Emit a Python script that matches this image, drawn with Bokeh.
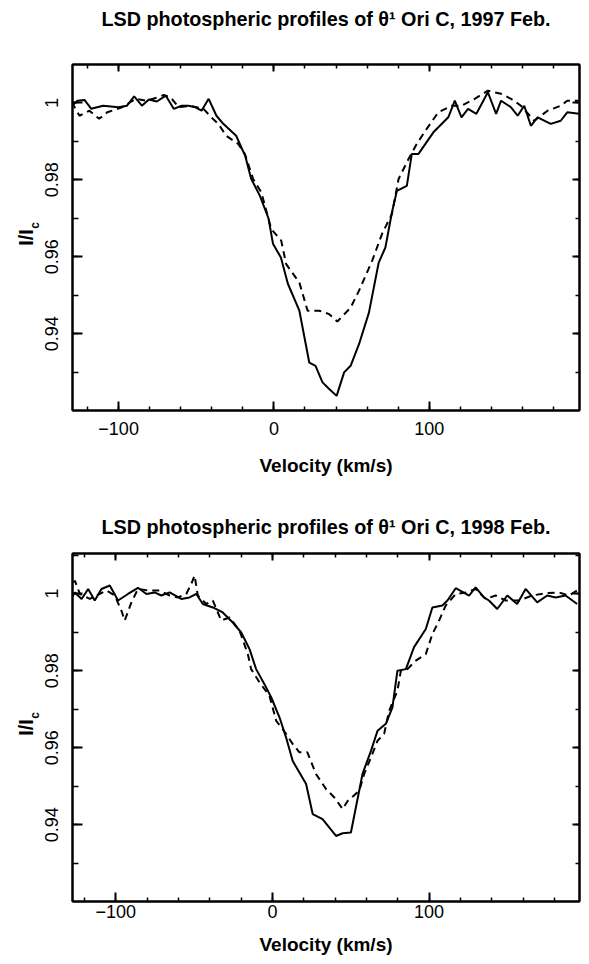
import numpy as np
from bokeh.plotting import figure
from bokeh.models import (LinearAxis, SingleIntervalTicker, FixedTicker, CustomJSTickFormatter,
                          CustomLabelingPolicy, Range1d)
from bokeh.layouts import column
from bokeh.embed import file_html
from bokeh.resources import INLINE

# ---------------- data ----------------
# 1997 Feb, solid profile
v97_solid = [-130, -126.5, -122, -117.6, -110, -100, -94.6, -90, -85, -80.5, -75.4, -69.6,
             -64.5, -59.4, -55, -50.5, -46.6, -42, -37, -32.6, -24.3, -18.5, -14.7, -9,
             -3.5, -0.6, 4.5, 9, 16.4, 22.8, 26.8, 31.3, 35.6, 40.4, 45.2, 49.4, 54.8,
             61.2, 67.5, 71.8, 76, 79.2, 85.6, 88.8, 93.1, 102.7, 112.3, 116.5, 120.8,
             125, 130.4, 137.8, 143.1, 146.3, 152.7, 157, 161.2, 165.5, 169.8, 178.3,
             184.7, 188.9, 196.4]
i97_solid = [0.9992, 1.0005, 1.0007, 0.9984, 0.9992, 0.9988, 0.9992, 1.0016, 0.9992, 1.0008,
             1.0003, 1.0018, 0.9984, 0.9992, 0.9992, 0.9988, 0.9979, 1.0010, 0.9966, 0.9945,
             0.9914, 0.9862, 0.9803, 0.9758, 0.9700, 0.9634, 0.9598, 0.9530, 0.9460, 0.9325,
             0.9317, 0.9274, 0.9257, 0.9239, 0.9300, 0.9317, 0.9373, 0.9455, 0.9585, 0.9624,
             0.9715, 0.9771, 0.9784, 0.9867, 0.9867, 0.9923, 0.9962, 1.0005, 0.9962, 0.9984,
             0.9971, 1.0027, 0.9971, 1.0005, 0.9988, 0.9966, 0.9992, 0.9940, 0.9962, 0.9945,
             0.9953, 0.9975, 0.9971]

# 1997 Feb, dashed profile
v97_dash = [-130.2, -125.2, -118.8, -112.5, -107.3, -97.8, -89, -81.8, -76.2, -70.9, -66.6,
            -61.3, -53.9, -45.4, -40.3, -35.8, -30.7, -23, -18.7, -13.4, -8.1, -1.7, 4.7,
            7.9, 16.4, 21.7, 29.2, 35.6, 40.9, 49.4, 54.8, 63.3, 69.6, 76, 80.3, 86.7, 92,
            98.4, 105.9, 114.4, 120.8, 129.3, 137.8, 146.3, 152.7, 159.1, 167.6, 176.2,
            184.7, 188.9, 196.4]
i97_dash = [1.0001, 0.9966, 0.9979, 0.9958, 0.9975, 0.9988, 1.0010, 1.0005, 1.0012, 1.0020,
            1.0014, 0.9988, 0.9992, 0.9984, 0.9962, 0.9945, 0.9914, 0.9893, 0.9867, 0.9802,
            0.9767, 0.9672, 0.9642, 0.9581, 0.9533, 0.9460, 0.9460, 0.9451, 0.9432, 0.9468,
            0.9512, 0.9590, 0.9659, 0.9711, 0.9802, 0.9854, 0.9893, 0.9932, 0.9975, 0.9992,
            0.9992, 1.0010, 1.0031, 1.0023, 1.0010, 0.9992, 0.9953, 0.9979, 0.9992, 1.0005,
            1.0005]

# 1998 Feb, solid profile
v98_solid = [-129.3, -126.1, -121.8, -117.6, -113.4, -109.1, -103.8, -98.5, -92.2, -85.8,
             -80.4, -75.2, -70.9, -65.6, -58.2, -52.9, -48.6, -44.4, -38, -31.7, -25.3,
             -19.9, -14.6, -10.4, -5.1, -0.8, 4.5, 8.7, 12.9, 21.5, 25.7, 32, 40.6, 44.8,
             50.1, 57.5, 62.9, 67.1, 72.4, 76.6, 79.8, 85.2, 90.4, 97.9, 102.1, 108.5,
             111.7, 117, 125.5, 129.7, 135, 138.2, 143.5, 149.9, 156.2, 161.6, 169, 175.4,
             180.7, 187.1, 194.5]
i98_solid = [0.9982, 1.0003, 0.9986, 1.0012, 0.9982, 1.0012, 1.0021, 0.9982, 0.9999, 1.0015,
             0.9999, 1.0003, 0.9995, 1.0003, 0.9986, 0.9990, 0.9999, 0.9973, 0.9964, 0.9951,
             0.9925, 0.9899, 0.9856, 0.9804, 0.9765, 0.9731, 0.9679, 0.9627, 0.9566, 0.9506,
             0.9428, 0.9415, 0.9371, 0.9378, 0.9380, 0.9532, 0.9592, 0.9644, 0.9662, 0.9705,
             0.9800, 0.9804, 0.9861, 0.9908, 0.9964, 0.9969, 0.9982, 1.0014, 0.9995, 1.0016,
             0.9990, 0.9982, 0.9960, 0.9995, 0.9973, 1.0012, 0.9977, 0.9995, 0.9990, 0.9995,
             0.9973]

# 1998 Feb, dashed profile
v98_dash = [-129.3, -126.1, -122.9, -116.6, -112.3, -105.9, -100.6, -96.4, -94.3, -90,
            -85.8, -79.4, -72, -65.6, -60.3, -55, -51.8, -49.7, -47.6, -42.2, -38, -32.7,
            -27.4, -21, -15.7, -13.6, -8.3, -1.9, 2.4, 8.7, 12.9, 17.2, 22.3, 27.8, 34.2,
            39.5, 44.8, 48, 55.4, 58.6, 62.9, 67.1, 71.3, 74.5, 79.8, 82, 86.2, 91.5, 97.9,
            102.1, 106.4, 110.6, 117, 123.4, 129.7, 136.1, 142.5, 148.9, 157.3, 165.8,
            174.3, 182.8, 189.2, 194.5]
i98_dash = [0.9999, 1.0034, 0.9999, 0.9986, 0.9995, 1.0008, 0.9995, 0.9956, 0.9930, 0.9977,
            1.0012, 1.0008, 1.0008, 0.9995, 0.9990, 0.9999, 1.0025, 1.0047, 0.9995, 0.9973,
            0.9982, 0.9930, 0.9938, 0.9904, 0.9843, 0.9804, 0.9770, 0.9735, 0.9670, 0.9636,
            0.9610, 0.9588, 0.9588, 0.9532, 0.9493, 0.9471, 0.9441, 0.9462, 0.9488, 0.9532,
            0.9575, 0.9618, 0.9636, 0.9696, 0.9748, 0.9800, 0.9804, 0.9826, 0.9843, 0.9895,
            0.9930, 0.9969, 0.9999, 1.0003, 1.0012, 0.9986, 0.9995, 0.9982, 0.9982, 0.9995,
            1.0001, 1.0003, 0.9995, 1.0008]

TITLE_97 = "LSD photospheric profiles of θ¹ Ori C, 1997 Feb."
TITLE_98 = "LSD photospheric profiles of θ¹ Ori C, 1998 Feb."
X_LABEL = "Velocity (km/s)"
Y_LABEL = "I/I"
# subscript of the y label; the two leading em spaces lift it above the end of "I/I"
Y_LABEL_SUB = "\u2003\u2003c"
X_MAJOR = 100
Y_MAJOR = 0.02

FONT = "Liberation Sans"

X_FMT = 'return tick < 0 ? "\u2212" + Math.abs(Math.round(tick)) : String(Math.round(tick));'
Y_FMT = 'return String(parseFloat(tick.toFixed(2)));'


def style_axis(ax, major_in, minor_in):
    ax.major_tick_in = major_in
    ax.major_tick_out = 0
    ax.minor_tick_in = minor_in
    ax.minor_tick_out = 0
    ax.axis_line_width = 2
    ax.axis_line_color = "black"
    ax.major_tick_line_width = 2
    ax.minor_tick_line_width = 1.5
    ax.major_tick_line_color = "black"
    ax.minor_tick_line_color = "black"
    ax.major_label_text_font = FONT
    ax.major_label_text_font_size = "18px"
    ax.major_label_text_color = "black"


def mirror_axis(ticker):
    ax = LinearAxis(ticker=ticker)
    style_axis(ax, 7, 4)
    ax.major_label_text_font_size = "0px"
    ax.major_label_standoff = 0
    ax.major_label_policy = CustomLabelingPolicy(code="return [];")
    return ax


def label_axis(text, size, standoff):
    # an axis without ticks, used only to place a text beside the frame
    ax = LinearAxis(ticker=FixedTicker(ticks=[], minor_ticks=[]))
    ax.axis_line_color = None
    ax.major_tick_line_color = None
    ax.minor_tick_line_color = None
    ax.major_tick_in = 0
    ax.major_tick_out = 0
    ax.minor_tick_in = 0
    ax.minor_tick_out = 0
    ax.major_label_text_font_size = "0px"
    ax.major_label_standoff = 0
    ax.axis_label = text
    ax.axis_label_text_font = FONT
    ax.axis_label_text_font_size = size
    ax.axis_label_text_font_style = "bold"
    ax.axis_label_text_color = "black"
    ax.axis_label_standoff = standoff
    return ax


def panel(title, vs, is_, vd, id_, width, height, bl, br, bt, bb, xr, yr,
          tick_standoff, xlab_standoff, title_standoff):
    p = figure(width=width, height=height, x_range=Range1d(*xr), y_range=Range1d(*yr),
               output_backend="svg", toolbar_location=None,
               min_border_left=bl, min_border_right=br, min_border_top=bt,
               min_border_bottom=bb)
    p.title.visible = False
    p.grid.visible = False
    p.outline_line_color = "black"
    p.outline_line_width = 2
    p.background_fill_color = "white"
    p.border_fill_color = "white"

    xa = p.xaxis[0]
    xa.ticker = SingleIntervalTicker(interval=X_MAJOR, num_minor_ticks=5)
    xa.formatter = CustomJSTickFormatter(code=X_FMT)
    style_axis(xa, 9, 4)
    xa.major_label_standoff = tick_standoff
    xa.axis_label = X_LABEL
    xa.axis_label_text_font = FONT
    xa.axis_label_text_font_size = "19px"
    xa.axis_label_text_font_style = "bold"
    xa.axis_label_text_color = "black"
    xa.axis_label_standoff = xlab_standoff

    ya = p.yaxis[0]
    ya.ticker = SingleIntervalTicker(interval=Y_MAJOR, num_minor_ticks=2)
    ya.formatter = CustomJSTickFormatter(code=Y_FMT)
    style_axis(ya, 10, 6)
    ya.major_label_orientation = "vertical"
    ya.major_label_standoff = 14

    p.add_layout(mirror_axis(SingleIntervalTicker(interval=X_MAJOR, num_minor_ticks=5)), "above")
    p.add_layout(mirror_axis(SingleIntervalTicker(interval=Y_MAJOR, num_minor_ticks=2)), "right")

    # title, above the frame
    p.add_layout(label_axis(title, "19.8px", title_standoff), "above")

    # y-axis label "I/I" with subscript "c"
    p.add_layout(label_axis(Y_LABEL_SUB, "12px", 1), "left")
    p.add_layout(label_axis(Y_LABEL, "20px", -12), "left")

    p.line(vs, is_, line_color="black", line_width=2)
    p.line(vd, id_, line_color="black", line_width=2, line_dash="7 5")
    return p


p1 = panel(TITLE_97, v97_solid, i97_solid, v97_dash, i97_dash,
           width=589, height=497, bl=68, br=10, bt=64, bb=87,
           xr=(-129.7, 196.8), yr=(0.9201, 1.0099), tick_standoff=11, xlab_standoff=17,
           title_standoff=35)
p2 = panel(TITLE_98, v98_solid, i98_solid, v98_dash, i98_dash,
           width=589, height=467, bl=72, br=9, bt=56, bb=63,
           xr=(-127.6, 196), yr=(0.9201, 1.0104), tick_standoff=3, xlab_standoff=13,
           title_standoff=16)

layout = column(p1, p2, spacing=0)
open("out.html", "w").write(file_html(layout, INLINE))
